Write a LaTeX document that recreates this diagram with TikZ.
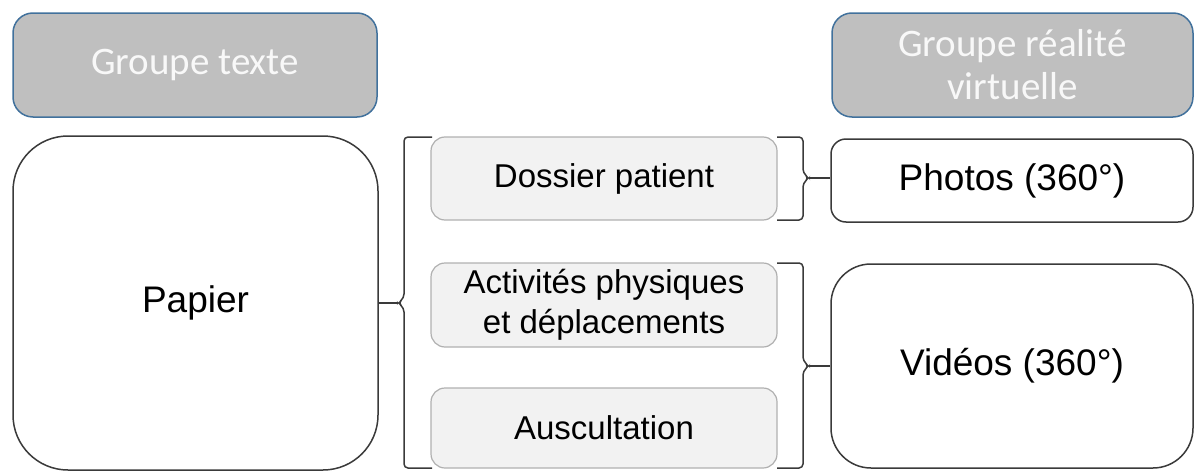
\documentclass[tikz,border=0pt]{standalone}
\usepackage{fontspec}
\setmainfont{Liberation Sans}
\newfontfamily\hdrfont{Carlito}
\definecolor{hdrfill}{HTML}{BFBFBF}
\definecolor{hdrline}{HTML}{41719C}
\definecolor{hdrtext}{HTML}{F8F8F8}
\definecolor{itemfill}{HTML}{F2F2F2}
\definecolor{itemline}{HTML}{B0B0B0}
\definecolor{darkline}{HTML}{3A3A3A}
\begin{document}
\begin{tikzpicture}[x=1pt,y=-1pt,
  hdr/.style={draw=hdrline, line width=1.5pt, fill=hdrfill, rounded corners=20pt, inner sep=0pt,
    align=center, text=hdrtext, font=\hdrfont\fontsize{39}{43}\selectfont},
  bigbox/.style={draw=darkline, line width=1.5pt, fill=white, inner sep=0pt, align=center,
    font=\fontsize{37}{40}\selectfont},
  item/.style={draw=itemline, line width=1.2pt, fill=itemfill, rounded corners=14pt, inner sep=0pt,
    align=center, font=\fontsize{33}{40}\selectfont, minimum width=346pt},
  brk/.style={draw=darkline, line width=1.5pt, rounded corners=4pt},
  link/.style={draw=darkline, line width=2pt}]
\useasboundingbox (0,0) rectangle (1194,471);
% headers
\node[hdr, minimum width=364pt, minimum height=104pt] (gt) at (195,65) {Groupe texte};
\node[hdr, minimum width=361pt, minimum height=104pt] (grv) at (1012.5,65) {Groupe réalité\\virtuelle};
% left big box
\node[bigbox, rounded corners=55pt, minimum width=365pt, minimum height=334pt] (pap) at (195.5,303) {Papier};
% items
\node[item, minimum height=83pt] (dos) at (604,178.5) {Dossier patient};
\node[item, minimum height=84pt] (act) at (604,305) {Activités physiques\\et déplacements};
\node[item, minimum height=80pt] (aus) at (604,428) {Auscultation};
% right boxes
\node[bigbox, rounded corners=15pt, minimum width=362pt, minimum height=83pt] (pho) at (1012,180.5) {Photos (360°)};
\node[bigbox, rounded corners=40pt, minimum width=362pt, minimum height=204pt] (vid) at (1012,366) {Vidéos (360°)};
% left bracket
\coordinate (lc) at (398,303);
\draw[brk] (432,137) -- (404,137) -- (404,298) -- (lc) -- (404,308) -- (404,468) -- (432,468);
\draw[link] (pap.east) -- (lc);
% right bracket for Dossier
\coordinate (r1) at (809,178);
\draw[brk] (777,137) -- (803,137) -- (803,173) -- (r1) -- (803,183) -- (803,220) -- (777,220);
\draw[link, line width=1.5pt] (r1) -- (pho.west |- r1);
% right bracket for Activites + Auscultation
\coordinate (r2) at (809,366);
\draw[brk] (777,263) -- (803,263) -- (803,361) -- (r2) -- (803,371) -- (803,468) -- (777,468);
\draw[link, line width=1.5pt] (r2) -- (vid.west |- r2);
\end{tikzpicture}
\end{document}
